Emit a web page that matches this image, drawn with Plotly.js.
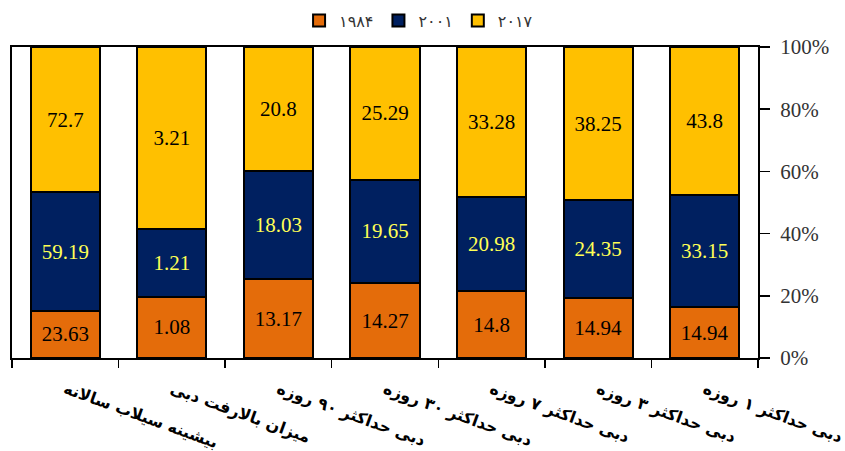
<!DOCTYPE html>
<html>
<head>
<meta charset="utf-8">
<script src="https://cdn.plot.ly/plotly-3.0.1.min.js"></script>
<style>html,body{margin:0;padding:0;background:#fff;}#chart{width:845px;height:451px;}</style>
</head>
<body>
<div id="chart"></div>
<script>
var categories = [
  "بیشینه سیلاب سالانه",
  "میزان بالارفت دبی",
  "دبی حداکثر ۹۰ روزه",
  "دبی حداکثر ۳۰ روزه",
  "دبی حداکثر ۷ روزه",
  "دبی حداکثر ۳ روزه",
  "دبی حداکثر ۱ روزه"
];
var seriesNames = ["۱۹۸۴", "۲۰۰۱", "۲۰۱۷"];
var values1984 = [23.63, 1.08, 13.17, 14.27, 14.8, 14.94, 14.94];
var values2001 = [59.19, 1.21, 18.03, 19.65, 20.98, 24.35, 33.15];
var values2017 = [72.7, 3.21, 20.8, 25.29, 33.28, 38.25, 43.8];
var yTicks = [0, 20, 40, 60, 80, 100];

var colors = ["#E46C0A", "#002060", "#FFC000"];
var textColors = ["#000000", "#FFFF55", "#000000"];
var allValues = [values1984, values2001, values2017];

var traces = allValues.map(function (vals, i) {
  return {
    type: "bar",
    name: seriesNames[i],
    x: categories,
    y: vals,
    text: vals.map(function (v) { return String(v); }),
    texttemplate: "%{text}",
    textposition: "inside",
    insidetextanchor: "middle",
    textangle: 0,
    constraintext: "none",
    textfont: { family: "Liberation Serif, Times New Roman, serif", size: 21, color: textColors[i] },
    marker: { color: colors[i], line: { color: "#000000", width: 2 } },
    hoverinfo: "skip"
  };
});

var layout = {
  width: 845,
  height: 451,
  margin: { l: 12, r: 87, t: 47, b: 93, autoexpand: false },
  paper_bgcolor: "#ffffff",
  plot_bgcolor: "#ffffff",
  barmode: "stack",
  barnorm: "percent",
  bargap: 0.35,
  showlegend: true,
  legend: {
    orientation: "h",
    x: 0.545, xanchor: "center",
    y: 1.03, yanchor: "bottom",
    traceorder: "normal",
    font: { family: "DejaVu Sans, sans-serif", size: 16, color: "#333333" },
    itemwidth: 30
  },
  xaxis: {
    type: "category",
    tickson: "boundaries",
    ticks: "outside",
    ticklen: 8,
    tickwidth: 1.5,
    tickcolor: "#000000",
    showline: true,
    linecolor: "#000000",
    linewidth: 2,
    mirror: true,
    showgrid: false,
    tickangle: 20,
    tickfont: { family: "DejaVu Sans, sans-serif", size: 16, color: "#000000", weight: "bold" },
    ticklabelstandoff: 14
  },
  yaxis: {
    side: "right",
    range: [0, 100],
    tickvals: yTicks,
    ticktext: yTicks.map(function (t) { return t + "%"; }),
    ticks: "outside",
    ticklen: 10,
    tickwidth: 1.5,
    tickcolor: "#000000",
    showline: true,
    linecolor: "#000000",
    linewidth: 2,
    mirror: true,
    showgrid: false,
    zeroline: false,
    ticklabelstandoff: 6,
    tickfont: { family: "Liberation Serif, Times New Roman, serif", size: 21, color: "#333333" }
  }
};

Plotly.newPlot("chart", traces, layout, { staticPlot: true, displayModeBar: false });
</script>
</body>
</html>
